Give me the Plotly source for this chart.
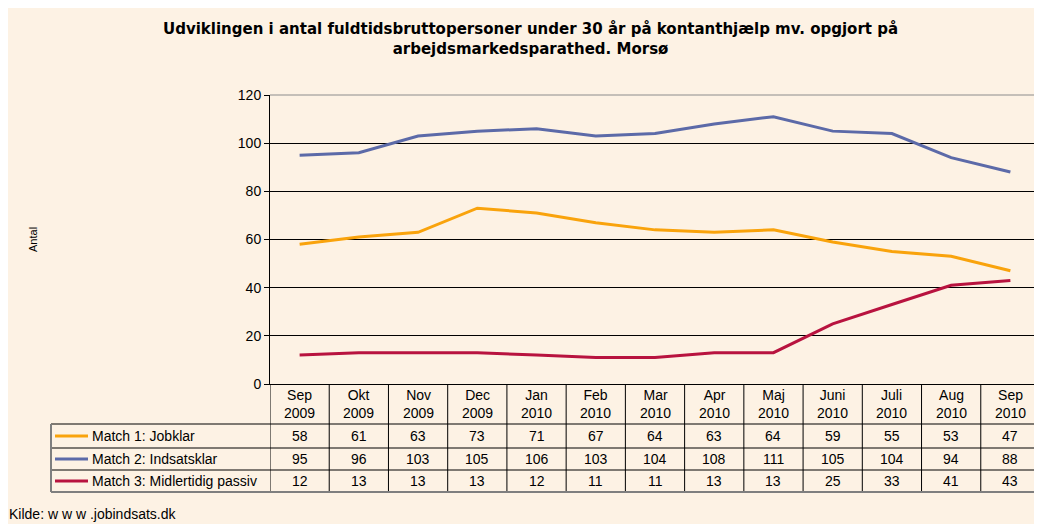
import plotly.graph_objects as go

months = ["Sep<br>2009", "Okt<br>2009", "Nov<br>2009", "Dec<br>2009", "Jan<br>2010", "Feb<br>2010",
          "Mar<br>2010", "Apr<br>2010", "Maj<br>2010", "Juni<br>2010", "Juli<br>2010", "Aug<br>2010", "Sep<br>2010"]
series_names = ["Match 1: Jobklar", "Match 2: Indsatsklar", "Match 3: Midlertidig passiv"]
jobklar = [58, 61, 63, 73, 71, 67, 64, 63, 64, 59, 55, 53, 47]
indsatsklar = [95, 96, 103, 105, 106, 103, 104, 108, 111, 105, 104, 94, 88]
passiv = [12, 13, 13, 13, 12, 11, 11, 13, 13, 25, 33, 41, 43]
colors = ["#F9A30C", "#5C6AA8", "#B8133F"]
y_ticks = [0, 20, 40, 60, 80, 100, 120]

# page body has an 8px default margin; figure fills the rest of the 1042x524 window
OFF = 8
W, H = 1042 - OFF, 524 - OFF
PLOT_L, PLOT_R, PLOT_T, PLOT_B = 270, 1040, 95, 384   # screen pixels
L, R, T, B = PLOT_L - OFF, 1042 - PLOT_R, PLOT_T - OFF, 524 - PLOT_B
PW, PH = PLOT_R - PLOT_L, PLOT_B - PLOT_T
BG = "#FDF2E4"
FONT = "Liberation Sans, Arial, sans-serif"
TFONT = "DejaVu Sans, Arial, sans-serif"


def px(x):
    return (x - PLOT_L) / PW


def py(y):
    return (PLOT_B - y) / PH


series = [jobklar, indsatsklar, passiv]
xs = list(range(len(months)))

fig = go.Figure()
for name, vals, c in zip(series_names, series, colors):
    fig.add_trace(go.Scatter(x=xs, y=vals, mode="lines", name=name,
                             line=dict(color=c, width=3), showlegend=False))

shapes = []
annotations = []

row_tops = [424, 448, 470, 492]
row_centers = [436, 459, 481]
left_tab = 51
gray = "#7F7F7F"

for i in range(len(months) + 1):
    xv = i - 0.5
    col, wdt = "black", 1
    if i == len(months):
        col, wdt = gray, 2
    shapes.append(dict(type="line", xref="x", yref="paper", x0=xv, x1=xv, y0=py(PLOT_B), y1=py(492),
                       line=dict(color=col, width=wdt)))
for k, yy in enumerate(row_tops):
    last = k == len(row_tops) - 1
    shapes.append(dict(type="line", xref="paper", yref="paper", x0=px(left_tab), x1=1.0, y0=py(yy), y1=py(yy),
                       line=dict(color=gray if last else "black", width=2 if last else 1)))
shapes.append(dict(type="line", xref="paper", yref="paper", x0=px(left_tab), x1=px(left_tab), y0=py(424), y1=py(492),
                   line=dict(color=gray, width=2)))
shapes.append(dict(type="line", xref="paper", yref="paper", x0=0, x1=1, y0=1, y1=1,
                   line=dict(color="#8C8C8C", width=1), layer="above"))
shapes.append(dict(type="line", xref="paper", yref="paper", x0=1, x1=1, y0=1, y1=py(PLOT_B),
                   line=dict(color=gray, width=2), layer="above"))

for i, m in enumerate(months):
    annotations.append(dict(x=i, xref="x", y=py(404), yref="paper", text=m, showarrow=False,
                            font=dict(family=FONT, size=14, color="black"), yanchor="middle"))
for r, (name, vals, c) in enumerate(zip(series_names, series, colors)):
    yc = py(row_centers[r])
    shapes.append(dict(type="line", xref="paper", yref="paper", x0=px(55), x1=px(88), y0=yc, y1=yc,
                       line=dict(color=c, width=3)))
    annotations.append(dict(x=px(90), xref="paper", y=yc, yref="paper", text=name, showarrow=False,
                            xanchor="left", yanchor="middle", font=dict(family=FONT, size=14, color="black")))
    for i, v in enumerate(vals):
        annotations.append(dict(x=i, xref="x", y=yc, yref="paper", text=str(v), showarrow=False,
                                yanchor="middle", font=dict(family=FONT, size=14, color="black")))

annotations.append(dict(x=px(33), xref="paper", y=py(240), yref="paper", text="Antal", textangle=-90,
                        showarrow=False, xanchor="center", yanchor="middle",
                        font=dict(family=FONT, size=11, color="black")))
annotations.append(dict(x=px(7), xref="paper", y=py(514), yref="paper", text="Kilde: w w w .jobindsats.dk",
                        showarrow=False, xanchor="left", yanchor="middle",
                        font=dict(family=FONT, size=14, color="black")))
annotations.append(dict(x=px(530), xref="paper", y=py(39), yref="paper",
                        text="<b>Udviklingen i antal fuldtidsbruttopersoner under 30 år på kontanthjælp mv. opgjort på<br>arbejdsmarkedsparathed. Morsø</b>",
                        showarrow=False, xanchor="center", yanchor="middle",
                        font=dict(family=TFONT, size=15, color="black")))

fig.update_layout(
    width=W, height=H,
    margin=dict(l=L, r=R, t=T, b=B),
    paper_bgcolor=BG, plot_bgcolor=BG,
    shapes=shapes, annotations=annotations,
    xaxis=dict(range=[-0.5, len(months) - 0.5], showticklabels=False, showgrid=False, zeroline=False,
               showline=True, linecolor="black", linewidth=1, ticks=""),
    yaxis=dict(range=[0, 120], tickvals=y_ticks, showgrid=True, gridcolor="black", gridwidth=1,
               zeroline=False, showline=True, linecolor="black", linewidth=1, ticks="outside",
               ticklen=5, tickcolor="black", tickfont=dict(family=FONT, size=14, color="black")),
    font=dict(family=FONT),
)

fig.write_html("out.html")
